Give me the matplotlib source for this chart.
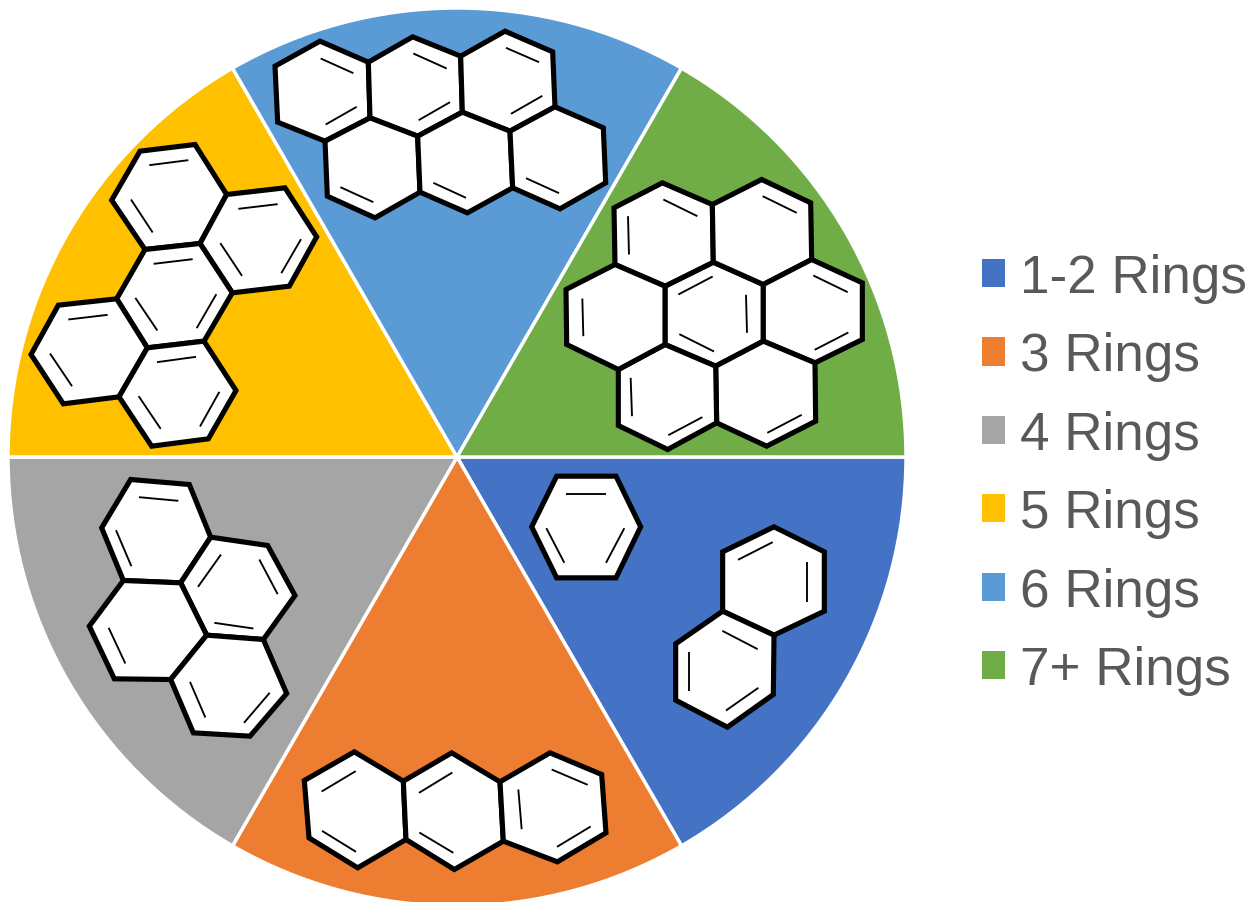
import matplotlib
matplotlib.use("Agg")
import matplotlib.pyplot as plt
from matplotlib.patches import Polygon

W, H = 1257, 903
plt.rcParams['font.family'] = ['Liberation Sans', 'DejaVu Sans']

categories = ['1-2 Rings', '3 Rings', '4 Rings', '5 Rings', '6 Rings', '7+ Rings']
shares = [16.67, 16.67, 16.67, 16.67, 16.67, 16.67]
colors = ['#4472C4', '#ED7D31', '#A5A5A5', '#FFC000', '#5B9BD5', '#70AD47']

# Molecule sketches: (crop origin, rings, double-bond lines) in 3x crop units
benzene = ((520, 470),
    [[(110,20),(288,20),(362,172),(288,325),(110,325),(35,172)]],
    [(139,72,257,72),(79,176,133,280),(313,176,258,280)])
naphthalene = ((520, 470),
    [[(608,247),(762,172),(913,247),(913,425),(762,497),(608,425)],
     [(608,425),(762,497),(760,675),(622,773),(467,692),(467,523)]],
    [(654,271,758,218),(861,278,861,396),(607,484,713,539),(507,548,507,665),(618,723,715,655)])
anthracene = ((295, 745),
    [[(28,108),(178,22),(325,110),(333,285),(188,370),(42,280)],
     [(325,110),(470,25),(615,112),(625,290),(478,375),(333,285)],
     [(615,112),(765,25),(920,90),(933,265),(787,352),(625,290)]],
    [(80,141,182,80),(81,259,183,322),(372,145,472,84),(373,264,475,325),(670,135,680,254),(770,75,878,121),(786,307,887,246)])
pyrene = ((80, 470),
    [[(152,30),(328,45),(392,203),(302,340),(130,333),(65,175)],
     [(392,203),(563,228),(645,378),(550,510),(380,497),(302,340)],
     [(130,333),(302,340),(380,497),(272,630),(103,628),(28,470)],
     [(380,497),(550,510),(620,672),(510,800),(340,790),(272,630)]],
    [(177,83,295,94),(108,182,154,290),(423,255,354,352),(538,270,593,374),(403,460,520,477),(86,475,136,582),(330,637,376,744),(569,670,492,760)])
five_ring = ((20, 135),
    [[(275,197),(360,50),(525,30),(620,180),(540,327),(375,345)],
     [(620,180),(795,160),(890,307),(808,455),(637,475),(540,327)],
     [(375,345),(540,327),(637,475),(552,620),(382,640),(290,493)],
     [(115,512),(290,493),(382,640),(297,787),(130,808),(33,660)],
     [(382,640),(552,620),(648,768),(565,913),(395,935),(297,787)]],
    [(388,92,505,77),(333,195,398,294),(655,223,773,209),(601,326,666,424),(843,314,784,416),(401,388,518,374),(346,490,412,588),(589,479,530,581),(145,555,263,541),(90,657,156,755),(411,683,528,667),(356,785,422,883),(598,772,540,876)])
six_ring = ((230, 20),
    [[(135,140),(270,65),(415,128),(420,295),(285,365),(143,308)],
     [(415,128),(548,52),(692,110),(697,278),(563,350),(420,295)],
     [(692,110),(825,35),(968,97),(975,262),(840,335),(697,278)],
     [(285,365),(420,295),(563,350),(570,518),(435,595),(292,530)],
     [(563,350),(697,278),(840,335),(848,505),(712,580),(570,518)],
     [(840,335),(975,262),(1120,325),(1127,490),(990,568),(848,505)]],
    [(272,117,370,161),(287,315,380,262),(550,102,650,147),(566,302,660,248),(828,85,927,128),(843,283,937,229),(331,503,430,548),(610,490,708,535),(888,476,987,521)])
coronene = ((550, 170),
    [[(345,350),(490,278),(640,345),(640,515),(497,590),(345,525)],
     [(192,115),(337,40),(487,105),(490,278),(345,350),(195,285)],
     [(487,105),(635,30),(782,100),(785,270),(640,345),(490,278)],
     [(640,345),(785,270),(937,340),(937,510),(795,580),(640,515)],
     [(497,590),(640,515),(795,580),(797,755),(650,830),(500,760)],
     [(205,600),(345,525),(497,590),(500,760),(353,840),(205,768)],
     [(48,360),(195,285),(345,350),(345,525),(205,600),(50,525)]],
    [(340,90,442,140),(234,140,237,255),(638,80,740,130),(385,375,488,321),(588,376,591,490),(388,494,492,546),(790,318,893,368),(794,541,895,489),(97,387,100,500),(242,625,246,740),(355,797,457,743),(652,790,755,736)])
molecules = [benzene, naphthalene, anthracene, pyrene, five_ring, six_ring, coronene]

fig = plt.figure(figsize=(W / 100, H / 100), dpi=100, facecolor='white')
ax = fig.add_axes([0, 0, 1, 1])
wedges, _ = ax.pie(shares, colors=colors, startangle=0, counterclock=False,
                   center=(457, H - 458), radius=449,
                   wedgeprops=dict(edgecolor='white', linewidth=2.5))
ax.set_xlim(0, W)
ax.set_ylim(0, H)
ax.set_aspect('equal')
ax.axis('off')


def pt(origin, x, y):
    return origin[0] + x / 3, H - (origin[1] + y / 3 + 0.5)


for origin, rings, bonds in molecules:
    for ring in rings:
        ax.add_patch(Polygon([pt(origin, x, y) for x, y in ring], closed=True,
                             facecolor='white', edgecolor='black', linewidth=3.7,
                             joinstyle='miter', zorder=5))
    for x0, y0, x1, y1 in bonds:
        a, b = pt(origin, x0, y0), pt(origin, x1, y1)
        ax.plot([a[0], b[0]], [a[1], b[1]], color='black', lw=1.35,
                solid_capstyle='butt', zorder=6)

leg = ax.legend(wedges, categories, loc='center left',
                bbox_to_anchor=(982 / W, 1 - 475 / H), bbox_transform=fig.transFigure,
                frameon=False, fontsize=38.2, labelcolor='#595959',
                handlelength=0.436, handleheight=0.436, handletextpad=0.28,
                labelspacing=0.535, borderpad=0, borderaxespad=0)
for h in leg.legend_handles:
    h.set_edgecolor('none')

fig.savefig('out.png', dpi=100, facecolor='white')
